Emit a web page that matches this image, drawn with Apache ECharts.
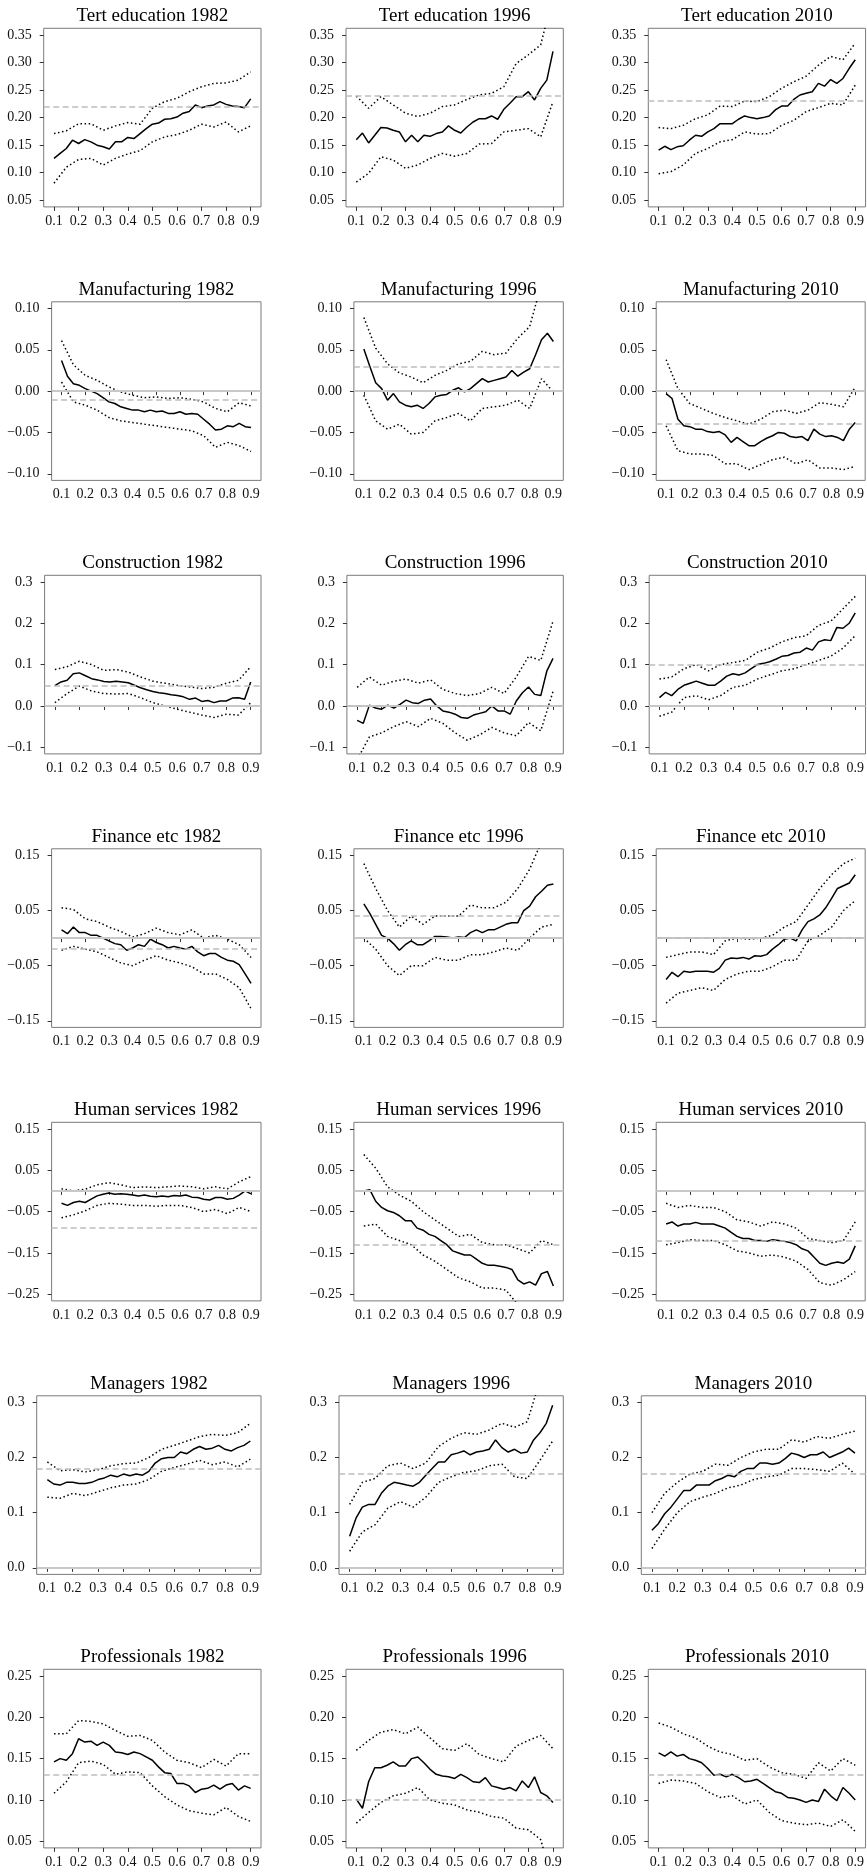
<!DOCTYPE html>
<html>
<head>
<meta charset="utf-8">
<script src="https://cdn.jsdelivr.net/npm/echarts@6/dist/echarts.min.js"></script>
<style>
  html, body { margin: 0; padding: 0; background: #fff; }
  #chart { width: 867px; height: 1872px; }
</style>
</head>
<body>
<div id="chart"></div>
<script>
// Quantile grid of the estimates (solid line) and of the confidence bands (dotted lines)
const X_FINE = [0.1,0.125,0.15,0.175,0.2,0.225,0.25,0.275,0.3,0.325,0.35,0.375,0.4,0.425,0.45,0.475,0.5,0.525,0.55,0.575,0.6,0.625,0.65,0.675,0.7,0.725,0.75,0.775,0.8,0.825,0.85,0.875,0.9];
const X_BAND = [0.1,0.15,0.2,0.25,0.3,0.35,0.4,0.45,0.5,0.55,0.6,0.65,0.7,0.75,0.8,0.85,0.9];
const X_TICKS = [0.1,0.2,0.3,0.4,0.5,0.6,0.7,0.8,0.9];

const YEARS = ['1982', '1996', '2010'];
const VARIABLES = ['Tert education', 'Manufacturing', 'Construction', 'Finance etc', 'Human services', 'Managers', 'Professionals'];

// y tick labels per row
const Y_TICKS_TERT = [0.05, 0.10, 0.15, 0.20, 0.25, 0.30, 0.35];
const Y_TICKS_MANUF = [-0.10, -0.05, 0.00, 0.05, 0.10];
const Y_TICKS_CONSTR = [-0.1, 0.0, 0.1, 0.2, 0.3];
const Y_TICKS_FIN = [-0.15, -0.05, 0.05, 0.15];
const Y_TICKS_HUMAN = [-0.25, -0.15, -0.05, 0.05, 0.15];
const Y_TICKS_MGR = [0.0, 0.1, 0.2, 0.3];
const Y_TICKS_PROF = [0.05, 0.10, 0.15, 0.20, 0.25];
const Y_DECIMALS = [2, 2, 1, 2, 2, 1, 2];

// ---- Tert education ----
const tert1982_est = [0.126,0.135,0.144,0.159,0.153,0.160,0.156,0.150,0.147,0.143,0.156,0.156,0.164,0.162,0.171,0.180,0.188,0.190,0.197,0.198,0.201,0.208,0.211,0.223,0.218,0.221,0.223,0.229,0.224,0.221,0.220,0.218,0.234];
const tert1982_hi = [0.171,0.176,0.189,0.189,0.177,0.185,0.191,0.188,0.217,0.229,0.235,0.247,0.256,0.262,0.263,0.268,0.283];
const tert1982_lo = [0.081,0.110,0.124,0.126,0.114,0.126,0.134,0.140,0.156,0.165,0.169,0.177,0.188,0.183,0.192,0.174,0.185];
const tert1982_ref = 0.217;

const tert1996_est = [0.160,0.172,0.154,0.168,0.182,0.181,0.177,0.174,0.156,0.168,0.156,0.168,0.166,0.171,0.174,0.185,0.177,0.172,0.183,0.192,0.198,0.198,0.203,0.197,0.215,0.226,0.238,0.238,0.247,0.232,0.253,0.268,0.320];
const tert1996_hi = [0.239,0.217,0.238,0.223,0.208,0.202,0.208,0.220,0.223,0.233,0.241,0.244,0.256,0.298,0.314,0.332,0.420];
const tert1996_lo = [0.083,0.099,0.129,0.123,0.108,0.114,0.126,0.135,0.130,0.135,0.152,0.153,0.174,0.177,0.180,0.165,0.229];
const tert1996_ref = 0.238;

const tert2010_est = [0.141,0.148,0.142,0.147,0.149,0.159,0.168,0.166,0.174,0.180,0.189,0.189,0.189,0.197,0.203,0.200,0.198,0.200,0.203,0.214,0.221,0.221,0.233,0.241,0.244,0.247,0.262,0.257,0.269,0.262,0.271,0.289,0.305];
const tert2010_hi = [0.182,0.180,0.186,0.198,0.205,0.221,0.220,0.230,0.229,0.238,0.253,0.265,0.275,0.295,0.311,0.305,0.335];
const tert2010_lo = [0.098,0.102,0.114,0.135,0.144,0.156,0.160,0.174,0.170,0.171,0.186,0.195,0.211,0.218,0.226,0.223,0.259];
const tert2010_ref = 0.229;

// ---- Manufacturing ----
const manuf1982_est = [0.037,0.018,0.009,0.007,0.003,0.000,-0.003,-0.008,-0.013,-0.015,-0.019,-0.021,-0.023,-0.023,-0.025,-0.023,-0.025,-0.024,-0.027,-0.027,-0.025,-0.028,-0.027,-0.028,-0.034,-0.040,-0.047,-0.046,-0.042,-0.043,-0.039,-0.043,-0.044];
const manuf1982_hi = [0.061,0.032,0.019,0.013,0.005,-0.001,-0.005,-0.008,-0.007,-0.009,-0.008,-0.010,-0.013,-0.021,-0.025,-0.014,-0.018];
const manuf1982_lo = [0.011,-0.013,-0.017,-0.023,-0.032,-0.036,-0.038,-0.040,-0.042,-0.044,-0.046,-0.048,-0.054,-0.068,-0.062,-0.066,-0.073];
const manuf1982_ref = -0.0104;

const manuf1996_est = [0.051,0.030,0.010,0.003,-0.011,-0.003,-0.013,-0.017,-0.019,-0.017,-0.021,-0.015,-0.007,-0.005,-0.004,0.001,0.004,-0.001,0.003,0.009,0.015,0.011,0.013,0.015,0.017,0.025,0.018,0.023,0.027,0.044,0.062,0.070,0.060];
const manuf1996_hi = [0.089,0.052,0.033,0.022,0.017,0.010,0.019,0.025,0.033,0.036,0.048,0.044,0.046,0.064,0.078,0.130,0.125];
const manuf1996_lo = [-0.005,-0.036,-0.046,-0.040,-0.052,-0.050,-0.036,-0.032,-0.027,-0.036,-0.021,-0.019,-0.017,-0.011,-0.021,0.015,-0.001];
const manuf1996_ref = 0.026;

const manuf2010_est = [-0.003,-0.009,-0.034,-0.042,-0.043,-0.046,-0.046,-0.049,-0.050,-0.049,-0.053,-0.062,-0.056,-0.061,-0.066,-0.066,-0.061,-0.057,-0.054,-0.050,-0.051,-0.055,-0.056,-0.055,-0.060,-0.046,-0.052,-0.055,-0.054,-0.056,-0.060,-0.046,-0.038];
const manuf2010_hi = [0.038,0.003,-0.015,-0.021,-0.027,-0.032,-0.036,-0.040,-0.034,-0.025,-0.023,-0.027,-0.023,-0.014,-0.016,-0.019,0.005];
const manuf2010_lo = [-0.042,-0.072,-0.076,-0.076,-0.078,-0.088,-0.088,-0.095,-0.089,-0.083,-0.080,-0.088,-0.083,-0.093,-0.093,-0.095,-0.091];
const manuf2010_ref = -0.0365;

// ---- Construction ----
const constr1982_est = [0.049,0.058,0.062,0.078,0.080,0.073,0.066,0.063,0.059,0.058,0.060,0.058,0.056,0.050,0.044,0.039,0.035,0.032,0.030,0.027,0.025,0.022,0.016,0.019,0.011,0.013,0.008,0.012,0.012,0.019,0.020,0.016,0.058];
const constr1982_hi = [0.088,0.095,0.108,0.100,0.086,0.088,0.082,0.070,0.060,0.055,0.050,0.046,0.042,0.045,0.055,0.062,0.095];
const constr1982_lo = [0.008,0.030,0.048,0.036,0.030,0.029,0.030,0.020,0.008,0.000,-0.008,-0.015,-0.022,-0.028,-0.020,-0.022,0.008];
const constr1982_ref = 0.047;

const constr1996_est = [-0.035,-0.042,0.002,-0.005,-0.008,0.002,-0.005,0.004,0.014,0.008,0.006,0.014,0.017,0.000,-0.012,-0.015,-0.020,-0.028,-0.030,-0.022,-0.018,-0.014,0.000,-0.012,-0.012,-0.020,0.012,0.032,0.046,0.028,0.025,0.085,0.115];
const constr1996_hi = [0.045,0.070,0.050,0.060,0.065,0.055,0.063,0.040,0.030,0.025,0.030,0.045,0.030,0.070,0.120,0.110,0.205];
const constr1996_lo = [-0.130,-0.075,-0.065,-0.050,-0.038,-0.050,-0.030,-0.042,-0.065,-0.083,-0.070,-0.052,-0.065,-0.072,-0.040,-0.060,0.035];
const constr1996_ref = -0.004;

const constr2010_est = [0.020,0.033,0.025,0.040,0.050,0.055,0.060,0.055,0.050,0.050,0.060,0.072,0.078,0.075,0.080,0.090,0.100,0.103,0.107,0.113,0.120,0.122,0.128,0.130,0.140,0.135,0.155,0.160,0.158,0.190,0.188,0.200,0.225];
const constr2010_hi = [0.065,0.070,0.090,0.100,0.085,0.100,0.105,0.110,0.130,0.140,0.155,0.165,0.170,0.195,0.205,0.235,0.265];
const constr2010_lo = [-0.025,-0.015,0.020,0.025,0.015,0.025,0.045,0.050,0.065,0.075,0.085,0.090,0.100,0.110,0.120,0.140,0.170];
const constr2010_ref = 0.102;

// ---- Finance etc ----
const fin1982_est = [0.015,0.008,0.020,0.010,0.010,0.005,0.005,0.000,-0.005,-0.010,-0.012,-0.022,-0.018,-0.012,-0.015,-0.002,-0.008,-0.012,-0.018,-0.015,-0.018,-0.020,-0.015,-0.025,-0.032,-0.028,-0.028,-0.035,-0.040,-0.042,-0.048,-0.065,-0.082];
const fin1982_hi = [0.055,0.052,0.035,0.030,0.020,0.012,0.002,0.008,0.018,0.010,0.006,0.015,0.000,0.005,-0.002,-0.012,-0.035];
const fin1982_lo = [-0.022,-0.015,-0.020,-0.025,-0.035,-0.045,-0.050,-0.040,-0.032,-0.040,-0.045,-0.052,-0.065,-0.065,-0.075,-0.090,-0.128];
const fin1982_ref = -0.018;

const fin1996_est = [0.062,0.045,0.025,0.005,0.000,-0.010,-0.022,-0.012,-0.005,-0.012,-0.012,-0.005,0.003,0.003,0.002,0.000,0.002,0.001,0.010,0.015,0.010,0.015,0.015,0.020,0.025,0.028,0.028,0.050,0.058,0.075,0.085,0.096,0.098];
const fin1996_hi = [0.135,0.090,0.050,0.020,0.040,0.025,0.040,0.040,0.040,0.060,0.055,0.055,0.065,0.090,0.125,0.175,0.180];
const fin1996_lo = [0.000,-0.020,-0.050,-0.068,-0.050,-0.050,-0.035,-0.040,-0.040,-0.030,-0.030,-0.025,-0.018,-0.022,0.000,0.020,0.025];
const fin1996_ref = 0.043;

const fin2010_est = [-0.075,-0.062,-0.070,-0.060,-0.062,-0.060,-0.060,-0.060,-0.062,-0.055,-0.040,-0.036,-0.037,-0.035,-0.038,-0.032,-0.033,-0.030,-0.020,-0.012,-0.002,0.000,-0.005,0.015,0.030,0.035,0.042,0.055,0.072,0.090,0.095,0.100,0.115];
const fin2010_hi = [-0.035,-0.030,-0.025,-0.025,-0.030,-0.005,0.000,-0.002,0.000,0.005,0.020,0.030,0.060,0.090,0.115,0.135,0.145];
const fin2010_lo = [-0.118,-0.100,-0.095,-0.090,-0.095,-0.075,-0.065,-0.060,-0.060,-0.052,-0.040,-0.040,-0.005,0.005,0.020,0.050,0.068];
const fin2010_ref = -0.004;

// ---- Human services ----
const human1982_est = [-0.030,-0.035,-0.028,-0.025,-0.028,-0.020,-0.012,-0.008,-0.005,-0.008,-0.007,-0.008,-0.010,-0.012,-0.010,-0.013,-0.014,-0.012,-0.014,-0.011,-0.012,-0.010,-0.015,-0.016,-0.020,-0.022,-0.016,-0.016,-0.020,-0.018,-0.010,0.000,-0.007];
const human1982_hi = [0.005,0.000,0.004,0.015,0.020,0.015,0.008,0.010,0.008,0.010,0.012,0.010,0.005,0.010,0.005,0.022,0.035];
const human1982_lo = [-0.065,-0.058,-0.048,-0.035,-0.030,-0.032,-0.035,-0.035,-0.037,-0.035,-0.035,-0.040,-0.050,-0.045,-0.055,-0.040,-0.050];
const human1982_ref = -0.093;

const human1996_est = [0.000,0.003,-0.025,-0.040,-0.048,-0.052,-0.060,-0.072,-0.072,-0.090,-0.095,-0.105,-0.110,-0.120,-0.130,-0.145,-0.150,-0.155,-0.155,-0.165,-0.175,-0.180,-0.180,-0.182,-0.185,-0.190,-0.215,-0.225,-0.220,-0.228,-0.200,-0.195,-0.230];
const human1996_hi = [0.088,0.055,0.010,-0.010,-0.025,-0.050,-0.070,-0.090,-0.110,-0.105,-0.125,-0.130,-0.130,-0.140,-0.150,-0.120,-0.130];
const human1996_lo = [-0.085,-0.080,-0.110,-0.120,-0.130,-0.155,-0.170,-0.190,-0.210,-0.220,-0.235,-0.235,-0.240,-0.275,-0.285,-0.270,-0.300];
const human1996_ref = -0.127;

const human2010_est = [-0.080,-0.075,-0.085,-0.080,-0.080,-0.076,-0.080,-0.080,-0.080,-0.085,-0.090,-0.100,-0.110,-0.115,-0.115,-0.120,-0.120,-0.122,-0.118,-0.120,-0.122,-0.125,-0.130,-0.140,-0.145,-0.160,-0.175,-0.180,-0.175,-0.172,-0.175,-0.165,-0.133];
const human2010_hi = [-0.030,-0.040,-0.035,-0.040,-0.040,-0.050,-0.070,-0.075,-0.085,-0.075,-0.080,-0.090,-0.115,-0.120,-0.125,-0.120,-0.075];
const human2010_lo = [-0.130,-0.125,-0.118,-0.120,-0.120,-0.130,-0.145,-0.150,-0.158,-0.155,-0.160,-0.170,-0.190,-0.222,-0.228,-0.215,-0.195];
const human2010_ref = -0.121;

// ---- Managers ----
const mgr1982_est = [0.160,0.152,0.150,0.155,0.155,0.153,0.153,0.155,0.160,0.163,0.168,0.165,0.170,0.167,0.170,0.168,0.175,0.190,0.198,0.200,0.200,0.210,0.207,0.215,0.220,0.215,0.217,0.222,0.215,0.212,0.218,0.222,0.230];
const mgr1982_hi = [0.192,0.176,0.178,0.174,0.178,0.185,0.189,0.190,0.200,0.215,0.222,0.230,0.238,0.242,0.240,0.245,0.262];
const mgr1982_lo = [0.128,0.126,0.135,0.131,0.138,0.145,0.150,0.152,0.160,0.175,0.182,0.188,0.195,0.187,0.192,0.183,0.197];
const mgr1982_ref = 0.181;

const mgr1996_est = [0.057,0.090,0.110,0.115,0.115,0.135,0.148,0.155,0.153,0.150,0.148,0.155,0.168,0.180,0.192,0.192,0.205,0.208,0.212,0.205,0.210,0.212,0.215,0.232,0.218,0.210,0.215,0.208,0.210,0.232,0.245,0.262,0.295];
const mgr1996_hi = [0.115,0.155,0.162,0.185,0.190,0.180,0.190,0.220,0.235,0.245,0.242,0.250,0.262,0.255,0.265,0.340,0.360];
const mgr1996_lo = [0.030,0.065,0.078,0.108,0.120,0.110,0.128,0.155,0.165,0.173,0.176,0.185,0.188,0.165,0.162,0.195,0.230];
const mgr1996_ref = 0.169;

const mgr2010_est = [0.068,0.080,0.098,0.110,0.125,0.140,0.140,0.150,0.150,0.150,0.158,0.162,0.168,0.165,0.175,0.180,0.180,0.190,0.190,0.188,0.190,0.198,0.208,0.205,0.200,0.205,0.205,0.210,0.200,0.205,0.210,0.217,0.208];
const mgr2010_hi = [0.100,0.135,0.155,0.170,0.175,0.188,0.186,0.200,0.210,0.215,0.215,0.232,0.228,0.238,0.235,0.242,0.248];
const mgr2010_lo = [0.035,0.070,0.100,0.120,0.128,0.135,0.145,0.150,0.160,0.165,0.168,0.180,0.180,0.178,0.175,0.190,0.170];
const mgr2010_ref = 0.169;

// ---- Professionals ----
const prof1982_est = [0.146,0.150,0.148,0.156,0.174,0.170,0.171,0.166,0.170,0.166,0.158,0.157,0.155,0.158,0.156,0.152,0.148,0.140,0.133,0.132,0.120,0.120,0.117,0.109,0.113,0.114,0.118,0.113,0.118,0.120,0.112,0.117,0.114];
const prof1982_hi = [0.180,0.180,0.196,0.195,0.192,0.184,0.177,0.178,0.172,0.158,0.148,0.145,0.139,0.149,0.141,0.156,0.156];
const prof1982_lo = [0.108,0.122,0.145,0.147,0.143,0.131,0.134,0.133,0.117,0.104,0.094,0.087,0.084,0.082,0.091,0.080,0.074];
const prof1982_ref = 0.133;

const prof1996_est = [0.101,0.090,0.122,0.139,0.139,0.142,0.146,0.141,0.141,0.150,0.152,0.145,0.137,0.131,0.129,0.128,0.126,0.131,0.127,0.122,0.121,0.127,0.117,0.115,0.113,0.115,0.111,0.123,0.115,0.128,0.109,0.105,0.097];
const prof1996_hi = [0.160,0.172,0.182,0.185,0.180,0.188,0.175,0.162,0.160,0.168,0.155,0.150,0.146,0.165,0.172,0.178,0.162];
const prof1996_lo = [0.072,0.085,0.097,0.105,0.108,0.115,0.100,0.096,0.094,0.088,0.085,0.080,0.078,0.066,0.064,0.052,0.000];
const prof1996_ref = 0.0976;

const prof2010_est = [0.157,0.153,0.158,0.153,0.155,0.150,0.148,0.145,0.138,0.130,0.131,0.128,0.131,0.127,0.122,0.123,0.125,0.120,0.115,0.110,0.108,0.103,0.102,0.100,0.097,0.100,0.098,0.113,0.105,0.099,0.115,0.108,0.100];
const prof2010_hi = [0.193,0.188,0.180,0.175,0.165,0.158,0.155,0.148,0.150,0.140,0.133,0.131,0.126,0.145,0.135,0.150,0.142];
const prof2010_lo = [0.120,0.124,0.123,0.120,0.110,0.103,0.105,0.095,0.100,0.085,0.075,0.072,0.070,0.072,0.068,0.076,0.062];
const prof2010_ref = 0.134;

// Rows of panels: [estimate, upper band, lower band, reference level] per year
const ROW_TICKS = [Y_TICKS_TERT, Y_TICKS_MANUF, Y_TICKS_CONSTR, Y_TICKS_FIN, Y_TICKS_HUMAN, Y_TICKS_MGR, Y_TICKS_PROF];
const PANEL_DATA = [
  [[tert1982_est, tert1982_hi, tert1982_lo, tert1982_ref], [tert1996_est, tert1996_hi, tert1996_lo, tert1996_ref], [tert2010_est, tert2010_hi, tert2010_lo, tert2010_ref]],
  [[manuf1982_est, manuf1982_hi, manuf1982_lo, manuf1982_ref], [manuf1996_est, manuf1996_hi, manuf1996_lo, manuf1996_ref], [manuf2010_est, manuf2010_hi, manuf2010_lo, manuf2010_ref]],
  [[constr1982_est, constr1982_hi, constr1982_lo, constr1982_ref], [constr1996_est, constr1996_hi, constr1996_lo, constr1996_ref], [constr2010_est, constr2010_hi, constr2010_lo, constr2010_ref]],
  [[fin1982_est, fin1982_hi, fin1982_lo, fin1982_ref], [fin1996_est, fin1996_hi, fin1996_lo, fin1996_ref], [fin2010_est, fin2010_hi, fin2010_lo, fin2010_ref]],
  [[human1982_est, human1982_hi, human1982_lo, human1982_ref], [human1996_est, human1996_hi, human1996_lo, human1996_ref], [human2010_est, human2010_hi, human2010_lo, human2010_ref]],
  [[mgr1982_est, mgr1982_hi, mgr1982_lo, mgr1982_ref], [mgr1996_est, mgr1996_hi, mgr1996_lo, mgr1996_ref], [mgr2010_est, mgr2010_hi, mgr2010_lo, mgr2010_ref]],
  [[prof1982_est, prof1982_hi, prof1982_lo, prof1982_ref], [prof1996_est, prof1996_hi, prof1996_lo, prof1996_ref], [prof2010_est, prof2010_hi, prof2010_lo, prof2010_ref]]
];

// ---- layout ----
const FONT = '"Liberation Serif", "Times New Roman", Times, serif';
const TICK_FONT_SIZE = 14;
const TITLE_FONT_SIZE = 19;
const COL_STEP = 302.3;
const ROW_STEP = 273.5;
const BOX_RIGHT0 = 261;
const BOX_LEFT_REF = 43.7;   // plot left edge when the widest tick label is "0.35"
const BOX_TOP0 = 28.3;
const BOX_H = 178.6;
const LABEL_GAP = 12;

const measureCtx = document.createElement('canvas').getContext('2d');
measureCtx.font = TICK_FONT_SIZE + 'px ' + FONT;
const textWidth = s => measureCtx.measureText(s).width;
const fmtY = (v, d) => v.toFixed(d).replace('-', '\u2212');
const refWidth = textWidth('0.35');

const grids = [], xAxes = [], yAxes = [], series = [], titles = [];
const toPairs = (xs, ys) => xs.map((x, i) => [x, ys[i]]);

PANEL_DATA.forEach((row, r) => {
  const ticks = ROW_TICKS[r];
  const dec = Y_DECIMALS[r];
  const tMin = ticks[0], tMax = ticks[ticks.length - 1];
  const pad = 0.04 * (tMax - tMin);
  const widest = Math.max.apply(null, ticks.map(t => textWidth(fmtY(t, dec))));
  row.forEach((panel, c) => {
    const idx = r * 3 + c;
    const right = BOX_RIGHT0 + c * COL_STEP;
    const left = BOX_LEFT_REF + c * COL_STEP + (widest - refWidth);
    const top = BOX_TOP0 + r * ROW_STEP;
    grids.push({
      left: left, top: top, width: right - left, height: BOX_H,
      show: true, borderColor: '#7a7a7a', borderWidth: 1, backgroundColor: 'transparent'
    });
    titles.push({
      text: VARIABLES[r] + ' ' + YEARS[c],
      left: (left + right) / 2, top: top - 21.7, textAlign: 'center', padding: 0,
      textStyle: { fontFamily: FONT, fontSize: TITLE_FONT_SIZE, fontWeight: 'normal', color: '#000' }
    });
    xAxes.push({
      type: 'value', gridIndex: idx, min: 0.058, max: 0.942,
      axisLine: { show: false },
      splitLine: { show: false },
      axisTick: { show: true, inside: false, length: 4, customValues: X_TICKS, lineStyle: { color: '#333', width: 1 } },
      axisLabel: { show: true, customValues: X_TICKS, margin: 7, fontFamily: FONT, fontSize: TICK_FONT_SIZE, color: '#111',
                   formatter: v => v.toFixed(1) }
    });
    yAxes.push({
      type: 'value', gridIndex: idx, min: tMin - pad, max: tMax + pad,
      axisLine: { show: false },
      splitLine: { show: false },
      axisTick: { show: true, inside: false, length: 4, customValues: ticks, lineStyle: { color: '#333', width: 1 } },
      axisLabel: { show: true, customValues: ticks, margin: LABEL_GAP, fontFamily: FONT, fontSize: TICK_FONT_SIZE, color: '#111',
                   formatter: v => fmtY(v, dec) }
    });

    const [est, hi, lo, ref] = panel;
    const refLines = [];
    if (tMin - pad < 0 && tMax + pad > 0) {
      refLines.push({ yAxis: 0, lineStyle: { color: '#c8c8c8', width: 2, type: 'solid' } });
    }
    refLines.push({ yAxis: ref, lineStyle: { color: '#bdbdbd', width: 1.6, type: [6, 3.5] } });
    series.push({
      type: 'line', xAxisIndex: idx, yAxisIndex: idx, data: [], z: 1, silent: true,
      markLine: { silent: true, symbol: 'none', label: { show: false }, animation: false, data: refLines }
    });
    [hi, lo].forEach(band => {
      series.push({
        type: 'line', xAxisIndex: idx, yAxisIndex: idx, data: toPairs(X_BAND, band), z: 2,
        showSymbol: false, symbol: 'none', silent: true, clip: true,
        lineStyle: { color: '#000', width: 1.5, type: [1.5, 2.6], cap: 'butt' }
      });
    });
    series.push({
      type: 'line', xAxisIndex: idx, yAxisIndex: idx, data: toPairs(X_FINE, est), z: 3,
      showSymbol: false, symbol: 'none', silent: true, clip: true,
      lineStyle: { color: '#000', width: 1.5 }
    });
  });
});

const chart = echarts.init(document.getElementById('chart'), null, { renderer: 'canvas' });
chart.setOption({
  animation: false,
  backgroundColor: '#fff',
  title: titles,
  grid: grids,
  xAxis: xAxes,
  yAxis: yAxes,
  series: series
});
</script>
</body>
</html>
